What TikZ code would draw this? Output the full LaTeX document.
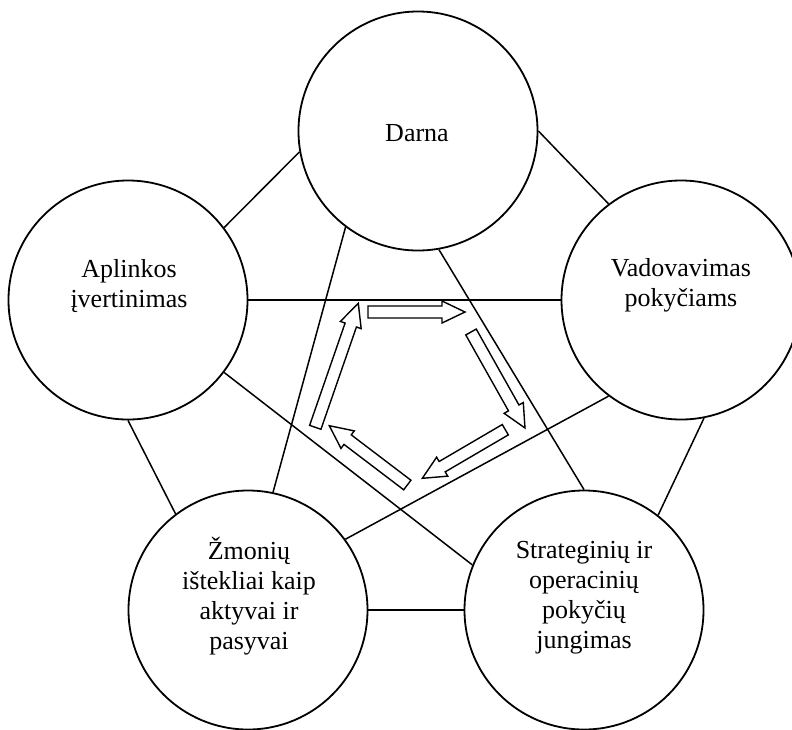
\documentclass[tikz,border=0pt]{standalone}
\usepackage{fontspec}
\setmainfont{Liberation Serif}
\usetikzlibrary{calc}

% hollow block arrow from coordinate #1 (tail) to coordinate #2 (tip)
\newcommand\flowarrow[2]{%
  \path let \p1=(#1), \p2=(#2),
    \n1={atan2(\y2-\y1,\x2-\x1)}, \n2={veclen(\x2-\x1,\y2-\y1)} in
    \pgfextra{\xdef\flowang{\n1}\xdef\flowlen{\n2}};
  \draw[flow, shift={(#1)}, rotate=\flowang]
    (0,-6) -- ({\flowlen-23},-6) -- ({\flowlen-23},-11) -- (\flowlen,0)
    -- ({\flowlen-23},11) -- ({\flowlen-23},6) -- (0,6) -- cycle;}

\begin{document}
\begin{tikzpicture}[x=1pt,y=-1pt,
  hub/.style={circle, draw, line width=1.8pt, fill=white,
    minimum size=239pt, inner sep=0pt},
  link/.style={line width=1.5pt},
  txt/.style={font=\fontsize{26}{30}\selectfont, align=center, inner sep=0pt},
  flow/.style={draw, line width=1.4pt, fill=white, line join=miter}]
\useasboundingbox (0,0) rectangle (792,729);

% the five areas
\node[hub] (darna) at (418,131) {};
\node[hub] (aplinkos) at (128,300) {};
\node[hub] (vadov) at (681,300) {};
\node[hub] (zmon) at (248,610) {};
\node[hub] (strat) at (584,610) {};

\node[txt, anchor=base] (darna-t) at (417,141) {Darna};
\node[txt] (aplinkos-t) at (129,286) {Aplinkos\\įvertinimas};
\node[txt] (vadov-t) at (681,285.5) {Vadovavimas\\pokyčiams};
\node[txt] (zmon-t) at (249,596) {Žmonių\\ištekliai kaip\\aktyvai ir\\pasyvai};
\node[txt] (strat-t) at (584,598) {Strateginių ir\\operacinių\\pokyčių\\jungimas};

% every area is linked with every other one
\draw[link] (darna.190) -- (aplinkos.37);
\draw[link] (darna.0) -- (vadov.127);
\draw[link] (aplinkos.0) -- (vadov.180);
\draw[link] (aplinkos.270) -- (zmon.127);
\draw[link] (aplinkos.323) -- (strat.158);
\draw[link] (darna.233) -- (zmon.78);
\draw[link] (darna.280) -- (strat.90);
\draw[link] (vadov.233) -- (zmon.36);
\draw[link] (vadov.281) -- (strat.52);
\draw[link] (zmon.0) -- (strat.180);

% the cycle of block arrows in the middle
\coordinate (f1s) at (368,312);   \coordinate (f1e) at (465,312);
\coordinate (f2s) at (471,332);   \coordinate (f2e) at (525,428);
\coordinate (f3s) at (505.3,429.7); \coordinate (f3e) at (422.3,478.3);
\coordinate (f4s) at (407.3,485); \coordinate (f4e) at (329.3,425.7);
\coordinate (f5s) at (315.3,427.3); \coordinate (f5e) at (358.3,303.3);
\flowarrow{f1s}{f1e}
\flowarrow{f2s}{f2e}
\flowarrow{f3s}{f3e}
\flowarrow{f4s}{f4e}
\flowarrow{f5s}{f5e}
\end{tikzpicture}
\end{document}
